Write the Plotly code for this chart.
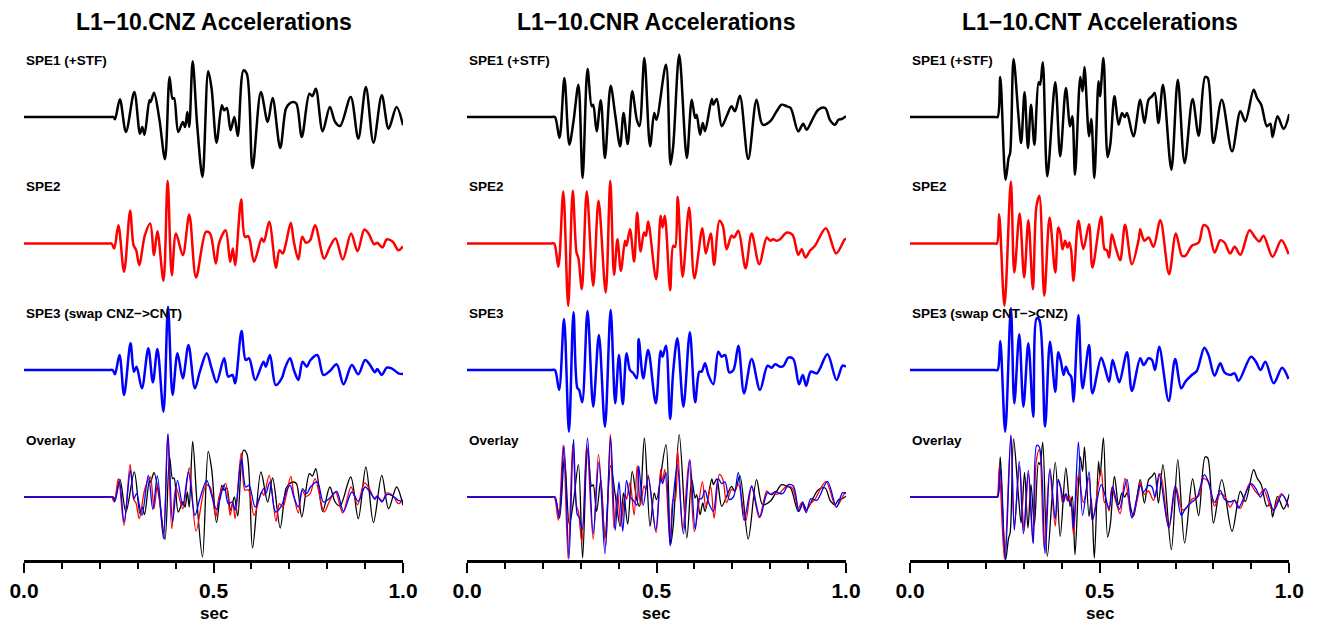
import plotly.graph_objects as go

# --- Data (time in sec, amplitude in arbitrary units) ---
# Left panel: CNZ
CNZ_T1 = [0.0, 0.1, 0.2, 0.228, 0.236, 0.240, 0.253, 0.269, 0.291, 0.306, 0.312, 0.318, 0.331, 0.334, 0.343, 0.357, 0.372,
          0.384, 0.392, 0.396, 0.407, 0.419, 0.425, 0.431, 0.436, 0.445, 0.457, 0.471, 0.486, 0.495, 0.508,
          0.522, 0.528, 0.535, 0.545, 0.555, 0.564, 0.579, 0.588, 0.603, 0.625, 0.643, 0.656, 0.676, 0.691,
          0.700, 0.711, 0.719, 0.733, 0.753, 0.761, 0.770, 0.788, 0.807, 0.821, 0.834, 0.862, 0.882, 0.902,
          0.922, 0.944, 0.962, 0.983, 1.0]
CNZ_A1 = [0, 0, 0, 0, 0, -2.3, 17.7, -15, 25, -16.7, -10, -17.7, 16.7, 15, 24.3, -1.7, -42.3,
          40, 18.3, 19, -15, -5, -10, 5, -10, 55.7, -8.3, -60, 45.7, 28.3, -25.7,
          11.7, 6.7, 9, -13.3, 0, -19, 46.7, 43.3, -51, 25, -5, 19, -31, 8.3,
          13.3, 15, 13.3, -20, 23.3, 21, 28.3, -14.3, 10, -5, -9, 20, -21.7, 30,
          -25.7, 21.7, -11.7, 10, -8.3]

CNZ_T2 = [0.0, 0.1, 0.2, 0.223, 0.231, 0.238, 0.249, 0.264, 0.280, 0.289, 0.296, 0.304, 0.319, 0.333, 0.343, 0.352, 0.368,
          0.379, 0.390, 0.401, 0.419, 0.436, 0.454, 0.480, 0.491, 0.506, 0.515, 0.532, 0.544, 0.551, 0.557,
          0.573, 0.583, 0.592, 0.607, 0.627, 0.633, 0.647, 0.665, 0.674, 0.683, 0.691, 0.704, 0.712, 0.724,
          0.734, 0.744, 0.755, 0.768, 0.792, 0.807, 0.822, 0.841, 0.863, 0.880, 0.898, 0.909, 0.924, 0.932,
          0.946, 0.957, 0.973, 0.988, 1.0]
CNZ_A2 = [0, 0, 0, 0, 0, -5, 18.3, -28.3, 32.7, -1.7, -6.7, -21.7, 8.3, 20, -11.7, 12.3, -37.3,
          62.7, -31.7, 10, -11.7, 29, -34, 11.7, 10, -20, 0.7, 13.3, -18.3, -5, -21.7,
          44, 6.7, 7.3, -18.3, 5, 1.7, 21.7, -24.3, -6.7, -10, 0, 20.7, 1.7, -16,
          6.7, 0.7, 3.3, 18.3, -15, -3.3, 5, -16, 10, -7.7, 14, 10, -0.7, 0.7,
          -4, 4, 1.7, -6.7, -2.7]

CNZ_T3 = [0.0, 0.1, 0.2, 0.226, 0.234, 0.240, 0.252, 0.264, 0.281, 0.290, 0.297, 0.311, 0.328, 0.340, 0.352, 0.368, 0.380,
          0.392, 0.405, 0.419, 0.434, 0.451, 0.464, 0.482, 0.495, 0.508, 0.528, 0.539, 0.550, 0.557, 0.574,
          0.585, 0.594, 0.610, 0.632, 0.638, 0.649, 0.664, 0.680, 0.689, 0.702, 0.712, 0.724, 0.735, 0.746,
          0.756, 0.774, 0.790, 0.807, 0.825, 0.843, 0.865, 0.882, 0.900, 0.913, 0.926, 0.932, 0.944, 0.957,
          0.970, 0.988, 1.0]
CNZ_A3 = [0, 0, 0, 0, 0, -4.3, 15, -25, 26.7, -1.7, 3.3, -18.3, 21.7, -12.3, 21, -41.7, 63.3,
          -25, 16.7, -8.3, 25, -18.3, -1.7, 16.7, 1.7, -12.3, 11.7, -6.7, -5, -13.3, 39,
          10, 11.7, -10, 8.3, 3.3, 15, -15, -8.3, 2.3, 11.7, 0, -10, 8.3, 3.3,
          10, 15, -5, -1, 5.7, -14.3, 5, -4.3, 10, 5, -2.3, 1, -5, 2.3,
          1.7, -3.3, -4]

# Middle panel: CNR
CNR_T1 = [0.0, 0.1, 0.2, 0.224, 0.232, 0.244, 0.257, 0.270, 0.281, 0.294, 0.305, 0.318, 0.329, 0.333, 0.342, 0.353, 0.364,
          0.379, 0.391, 0.404, 0.413, 0.424, 0.436, 0.448, 0.455, 0.468, 0.483, 0.494, 0.500, 0.525, 0.537,
          0.544, 0.560, 0.580, 0.593, 0.602, 0.606, 0.615, 0.622, 0.628, 0.646, 0.650, 0.659, 0.672, 0.685,
          0.698, 0.707, 0.720, 0.742, 0.764, 0.780, 0.800, 0.817, 0.830, 0.844, 0.854, 0.874, 0.887, 0.896,
          0.909, 0.927, 0.945, 0.958, 0.971, 0.980, 0.989, 1.0]
CNR_A1 = [0, 0, 0, 0, 0, -21, 39, -27.7, -4.3, 32.3, -61, 48, 10.7, 12.3, -14.3, 16.7, -41,
          31.3, 2.3, -29.3, 4, -27, 25.7, -2.7, -9.3, 59, -29.3, 4, -2.7, 52.3, -47.7,
          -29.3, 62.3, -41, 17.3, -1, 2.3, -17.7, -6, -14.3, 18, 12.3, 18, -9.3, 0.7,
          10.7, 5.7, 21.3, -42, 17.3, -7.7, -4.3, 5.7, 12.3, 10.7, 9, -14.3, -6.7, -12.7,
          -4.3, 7.3, 9, -3.3, -7.7, -2.7, -2, 0.7]

CNR_T2 = [0.0, 0.1, 0.2, 0.222, 0.230, 0.241, 0.254, 0.267, 0.279, 0.289, 0.294, 0.303, 0.316, 0.333, 0.347, 0.366, 0.378,
          0.388, 0.397, 0.406, 0.417, 0.421, 0.430, 0.441, 0.449, 0.458, 0.467, 0.472, 0.478, 0.499, 0.511,
          0.516, 0.522, 0.536, 0.544, 0.549, 0.556, 0.569, 0.586, 0.600, 0.621, 0.630, 0.643, 0.652, 0.666,
          0.675, 0.685, 0.698, 0.705, 0.716, 0.735, 0.751, 0.771, 0.791, 0.800, 0.808, 0.817, 0.826, 0.844,
          0.859, 0.874, 0.883, 0.893, 0.905, 0.918, 0.947, 0.974, 0.997, 1.0]
CNR_A2 = [0, 0, 0, 0, 0, -23.3, 52, -62.3, 52.7, -9, -14.7, -45.7, 52, -42.3, 42.7, -49, 62.7,
          -31.3, 4.3, -27.3, 2.7, -2.3, 14.3, -18, 31, -8, 11, 7.7, 22, -35.7, 27.7,
          16, 27.7, -46.7, -2.3, -3.3, 46.7, -33.3, 36, -34.7, 15.3, -10, 10, -21.3, 22.7,
          17.7, -5.7, 7.7, 6, 12.7, -24.7, 10, -20.7, 6, 2.7, 4.3, 2.7, 4.3, 11,
          8.7, -11.3, -5.7, -14, -7.3, -2.3, 15.3, -10, 4.3, 4.5]

CNR_T3 = [0.0, 0.1, 0.2, 0.224, 0.232, 0.243, 0.256, 0.269, 0.281, 0.291, 0.296, 0.304, 0.318, 0.333, 0.348, 0.364, 0.379,
          0.391, 0.401, 0.411, 0.421, 0.430, 0.439, 0.448, 0.453, 0.465, 0.478, 0.498, 0.511, 0.516, 0.525,
          0.536, 0.544, 0.555, 0.571, 0.588, 0.602, 0.613, 0.619, 0.628, 0.637, 0.650, 0.663, 0.672, 0.681,
          0.692, 0.703, 0.716, 0.731, 0.751, 0.773, 0.793, 0.804, 0.813, 0.826, 0.835, 0.848, 0.861, 0.876,
          0.886, 0.895, 0.907, 0.923, 0.951, 0.975, 0.991, 1.0]
CNR_A3 = [0, 0, 0, 0, 0, -20, 51, -61.7, 57.7, -17.7, -20, -32.3, 59, -36.7, 35, -56.7, 60,
          -33.3, 15, -34.3, 16.7, 0, -3.3, -8.3, 31, -8.3, 20, -33.3, 19, 13.3, 24.3,
          -49, -1.7, 31.7, -36.7, 37.7, -32.3, -1.7, -1.7, 6.7, -5, -14.3, 18.3, 13.3, 15,
          -2.3, 0, 24.3, -23.3, 11, -20, 4.3, 2.3, 5.7, 3.3, 4, 12.3, 11, -14.3,
          -5, -15.7, -1.7, -3.3, 15.7, -10, 4.3, 3.3]

# Right panel: CNT
CNT_T1 = [0.0, 0.1, 0.2, 0.224, 0.231, 0.238, 0.252, 0.260, 0.264, 0.273, 0.286, 0.293, 0.302, 0.311, 0.319, 0.328, 0.339,
          0.343, 0.350, 0.362, 0.383, 0.396, 0.411, 0.422, 0.428, 0.435, 0.449, 0.455, 0.460, 0.472, 0.478,
          0.486, 0.497, 0.501, 0.510, 0.521, 0.528, 0.539, 0.550, 0.559, 0.566, 0.572, 0.589, 0.607, 0.618,
          0.629, 0.638, 0.645, 0.655, 0.667, 0.689, 0.706, 0.724, 0.745, 0.761, 0.778, 0.785, 0.800, 0.822,
          0.849, 0.871, 0.884, 0.906, 0.915, 0.926, 0.941, 0.950, 0.956, 0.969, 0.985, 1.0]
CNT_A1 = [0, 0, 0, 0, 0, 40, -62.7, -41, -36, 58, 0.7, -26, 24.7, -31, 12.3, -27.7, 34.7,
          32.3, 54.7, -59.3, 34.7, -39.3, 29, -9.3, 0.7, -57.7, 40, 25.7, 50, -19.3, -2,
          -61, 35.7, 20.7, 59, -40, -27.7, 20.7, -7.7, 4, 0, 4, -19.3, 17.3, -6,
          17.3, 20.7, 24, -6, 32.3, -52.7, 37.3, -46, 18, -18.7, 40, 39, -26, 17.3,
          -34.3, 5.7, -4.3, 27.3, 19, 12.3, -9.3, -6.7, -20, 0.7, -12, 3]

CNT_T2 = [0.0, 0.1, 0.2, 0.222, 0.229, 0.235, 0.249, 0.266, 0.275, 0.289, 0.301, 0.312, 0.324, 0.333, 0.341, 0.354, 0.368,
          0.383, 0.391, 0.396, 0.402, 0.409, 0.415, 0.420, 0.425, 0.431, 0.444, 0.457, 0.472, 0.481, 0.504,
          0.513, 0.519, 0.525, 0.532, 0.541, 0.554, 0.567, 0.585, 0.603, 0.607, 0.611, 0.618, 0.629, 0.642,
          0.660, 0.683, 0.701, 0.717, 0.726, 0.743, 0.761, 0.774, 0.785, 0.803, 0.818, 0.829, 0.844, 0.856,
          0.871, 0.895, 0.910, 0.921, 0.932, 0.956, 0.979, 0.998]
CNT_A2 = [0, 0, 0, 0, 0, 29.3, -62.3, 62, -29, 30, -34, 23.3, -45.7, 36, 47.7, -52.3, 26,
          -29, 16, 11, -5.7, 2.7, -4, 1, -7.3, -37.3, 22.7, -5.7, 19.3, -24, 26.7,
          -5.7, -6.7, -14, 9.3, -2.3, -16.7, 18.7, -20.7, 4.3, 14.3, 9.3, 2.7, 6, -3.3,
          23.3, -30.7, 10, -12.3, -12.3, -2.3, 1, 18.3, 16, -9, 3.3, 1, -10, -3.3,
          -11.3, 13.3, 6, 2, 7.7, -13.3, 3.3, -10.7]

CNT_T3 = [0.0, 0.1, 0.2, 0.224, 0.231, 0.238, 0.251, 0.266, 0.275, 0.288, 0.299, 0.312, 0.325, 0.334, 0.341, 0.356, 0.369,
          0.383, 0.391, 0.398, 0.405, 0.411, 0.418, 0.425, 0.431, 0.444, 0.455, 0.472, 0.481, 0.504, 0.513,
          0.525, 0.534, 0.543, 0.552, 0.572, 0.585, 0.607, 0.616, 0.629, 0.638, 0.646, 0.657, 0.682, 0.699,
          0.715, 0.726, 0.743, 0.756, 0.776, 0.787, 0.803, 0.818, 0.829, 0.844, 0.856, 0.866, 0.899, 0.912,
          0.924, 0.937, 0.959, 0.981, 0.998]
CNT_A3 = [0, 0, 0, 0, 0, 29, -61.7, 61.7, -33.3, 35.7, -36.7, 26.7, -46.7, 51.7, 50, -56.7, 28.3,
          -21.7, 17.7, 8.3, -5, 3.3, -3.3, -6.7, -31.7, 55, -18.3, 25, -23.3, 12.3, 3.3,
          -11.7, 10, -1.7, -12.3, 17.7, -21, 11.7, 5, 11.7, 10, 0, 23.3, -31, 11,
          -18.3, -11.7, -5, -1, 22.3, 15, -5.7, 6.7, -2.3, -5, -3.3, -11, 13.3, 8.3,
          0, 8.3, -13.3, 2.3, -9]

TITLES = ["L1\u221210.CNZ Accelerations", "L1\u221210.CNR Accelerations", "L1\u221210.CNT Accelerations"]
ROW_LABELS = [
    ["SPE1 (+STF)", "SPE2", "SPE3 (swap CNZ\u2212>CNT)", "Overlay"],
    ["SPE1 (+STF)", "SPE2", "SPE3", "Overlay"],
    ["SPE1 (+STF)", "SPE2", "SPE3 (swap CNT\u2212>CNZ)", "Overlay"],
]
TICK_VALS = [0.0, 0.5, 1.0]

# --- Layout / style ---
# the page body adds an 8px margin, so everything is placed 8px up/left
W, H = 1318, 626
COLORS = ["#000000", "#ff0000", "#0000ff"]
OFFSETS = [0, -126.5, -253, -380]   # vertical offset of each row
Y_RANGE = [-443, 77]
LABEL_DY = 57
X_DOMAINS = [[16 / W, 395 / W], [459 / W, 838 / W], [902 / W, 1281.3 / W]]
Y_DOMAIN = [(H - 552) / H, (H - 32) / H]
FONT = "Liberation Sans, Arial, Helvetica, sans-serif"

PANELS = [
    [(CNZ_T1, CNZ_A1), (CNZ_T2, CNZ_A2), (CNZ_T3, CNZ_A3)],
    [(CNR_T1, CNR_A1), (CNR_T2, CNR_A2), (CNR_T3, CNR_A3)],
    [(CNT_T1, CNT_A1), (CNT_T2, CNT_A2), (CNT_T3, CNT_A3)],
]


def shifted(values, off):
    return [v + off for v in values]


fig = go.Figure()
annotations = []

for p, series in enumerate(PANELS):
    xa = "x" if p == 0 else f"x{p + 1}"
    ya = "y" if p == 0 else f"y{p + 1}"

    # single traces, one row each
    for s, (t, a) in enumerate(series):
        fig.add_trace(go.Scatter(
            x=t, y=shifted(a, OFFSETS[s]), mode="lines", xaxis=xa, yaxis=ya,
            line=dict(color=COLORS[s], width=2.5, shape="spline", smoothing=0.9),
            hoverinfo="skip"))

    # overlay row
    for s, (t, a) in enumerate(series):
        fig.add_trace(go.Scatter(
            x=t, y=shifted(a, OFFSETS[3]), mode="lines", xaxis=xa, yaxis=ya,
            line=dict(color=COLORS[s], width=1.3, shape="spline", smoothing=0.9),
            hoverinfo="skip"))

    for r, label in enumerate(ROW_LABELS[p]):
        annotations.append(dict(
            x=0, y=OFFSETS[r] + LABEL_DY, xref=xa, yref=ya, text=label, showarrow=False,
            xanchor="left", yanchor="middle",
            font=dict(family=FONT, size=13.5, color="black", weight="bold")))

    xmid = sum(X_DOMAINS[p]) / 2
    annotations.append(dict(
        x=xmid, y=1 - 14 / H, xref="paper", yref="paper", text=TITLES[p], showarrow=False,
        xanchor="center", yanchor="middle",
        font=dict(family=FONT, size=23, color="black", weight="bold")))
    annotations.append(dict(
        x=xmid, y=9 / H, xref="paper", yref="paper", text="sec", showarrow=False,
        xanchor="center", yanchor="bottom",
        font=dict(family=FONT, size=17, color="black", weight="bold")))

    fig.layout["xaxis" if p == 0 else f"xaxis{p + 1}"] = dict(
        domain=X_DOMAINS[p], anchor=ya, range=[0, 1], showgrid=False, zeroline=False,
        automargin=False,
        showline=True, linecolor="black", linewidth=3,
        tickmode="array", tickvals=TICK_VALS, tickformat=".1f",
        ticks="outside", ticklen=10, tickwidth=2, tickcolor="black", ticklabelstandoff=0,
        tickfont=dict(family=FONT, size=21, color="black", weight="bold"),
        minor=dict(dtick=0.1, tick0=0, ticks="outside", ticklen=6, tickwidth=1.5, tickcolor="black"),
        fixedrange=True)
    fig.layout["yaxis" if p == 0 else f"yaxis{p + 1}"] = dict(
        domain=Y_DOMAIN, anchor=xa, range=Y_RANGE, visible=False, automargin=False,
        fixedrange=True)

fig.update_layout(
    width=W, height=H,
    margin=dict(l=0, r=0, t=0, b=0, autoexpand=False),
    plot_bgcolor="white", paper_bgcolor="white",
    showlegend=False,
    annotations=annotations,
)

fig.write_html("out.html")
